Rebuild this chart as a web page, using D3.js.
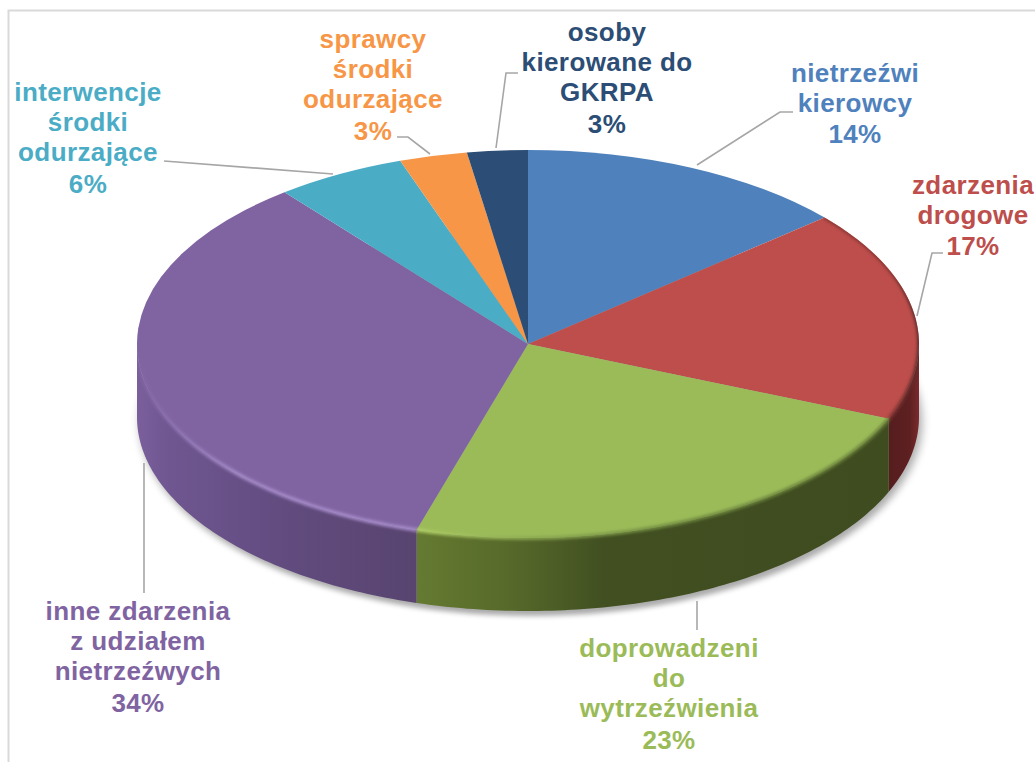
<!DOCTYPE html>
<html lang="pl">
<head>
<meta charset="utf-8">
<title>Wykres</title>
<script src="https://cdn.jsdelivr.net/npm/d3@7"></script>
<style>
html,body{margin:0;padding:0;background:#fff;overflow:hidden}
svg{display:block}
text{font-family:"Liberation Sans",Arial,sans-serif;font-weight:700;font-size:26px;letter-spacing:.4px;text-anchor:middle}
</style>
</head>
<body>
<script>
const categories = ["nietrzeźwi kierowcy","zdarzenia drogowe","doprowadzeni do wytrzeźwienia","inne zdarzenia z udziałem nietrzeźwych","interwencje środki odurzające","sprawcy środki odurzające","osoby kierowane do GKRPA"];
const sliceShares = [13.7, 17.6, 23.3, 34.7, 5.4, 2.8, 2.5];
const percentLabels = ["14%","17%","23%","34%","6%","3%","3%"];
const labelLines = [
  ["nietrzeźwi","kierowcy"],
  ["zdarzenia","drogowe"],
  ["doprowadzeni","do","wytrzeźwienia"],
  ["inne zdarzenia","z udziałem","nietrzeźwych"],
  ["interwencje","środki","odurzające"],
  ["sprawcy","środki","odurzające"],
  ["osoby","kierowane do","GKRPA"]
];
const colors = ["#4f81bd","#bd4e4b","#9bbb59","#8064a2","#4bacc6","#f79646","#2c4d75"];

// layout
const W = 1035, H = 762;
const cx = 528, cy = 344, rx = 391, ry = 194, depth = 73;
const labelPos = [[855,82],[973,194],[669,657],[138,620],[88,101],[373,48],[607,41]];
const leaders = [
  [[793,112],[780,112],[697,165]],
  [[943,253],[932,253],[917,316]],
  [[697,601],[697,630]],
  [[144,463],[144,593]],
  [[164,161],[333,174]],
  [[397,137],[408,137],[430,154]],
  [[518,73],[506,73],[496,148]]
];

const svg = d3.select("body").append("svg").attr("width",W).attr("height",H);
const defs = svg.append("defs");

const blur = (id,s)=>defs.append("filter").attr("id",id)
  .attr("x","-10%").attr("y","-10%").attr("width","120%").attr("height","130%")
  .append("feGaussianBlur").attr("stdDeviation",s);
blur("shadowBlur",5); blur("rimBlur",1.6);

const grad = (id,x1,x2,stops)=>{
  const g = defs.append("linearGradient").attr("id",id).attr("gradientUnits","userSpaceOnUse")
    .attr("x1",x1).attr("x2",x2).attr("y1",0).attr("y2",0);
  stops.forEach(s=>g.append("stop").attr("offset",s[0]).attr("stop-color",s[1]));
};
grad("sidePurple",137,417,[[0,"#7a5f9c"],[.12,"#6f5690"],[.5,"#624c80"],[1,"#58446f"]]);
grad("sideGreen",417,890,[[0,"#657a31"],[.2,"#56692a"],[.4,"#414f21"],[1,"#3f4c20"]]);
grad("sideRed",888,919,[[0,"#551d1f"],[.7,"#5e2021"],[1,"#7a2a2b"]]);
grad("rimPurple",137,417,[[0,"#8064a2"],[.35,"#a78ccb"],[1,"#a78ccb"]]);
grad("rimGreen",417,890,[[0,"#b0cf66"],[.25,"#8aa750"],[.55,"#6f8a3e"],[1,"#6a8039"]]);
grad("rimRed",885,920,[[0,"#8a3533"],[1,"#5a2a2a"]]);

// frame
svg.append("path").attr("d",`M${W},10.5H8.5V${H}`).attr("fill","none").attr("stroke","#d9d9d9").attr("stroke-width",2);

// geometry from d3.pie
const pie = d3.pie().value(d=>d).sort(null);
const arcs = pie(sliceShares);
const px = a => rx*Math.sin(a);
const py = a => -ry*Math.cos(a);
const edge = d3.line().x(d=>cx+px(d)).y(d=>cy+py(d));
const angleRange = (a0,a1)=>{const n=Math.max(2,Math.ceil((a1-a0)*60));return d3.range(n+1).map(i=>a0+(a1-a0)*i/n);};

// silhouette of the disc, keeps the soft rim from bleeding onto the page
const backHalf = angleRange(-Math.PI/2,Math.PI/2).map(a=>[cx+px(a),cy+py(a)]);
const frontHalf = angleRange(Math.PI/2,3*Math.PI/2).map(a=>[cx+px(a),cy+py(a)+depth]);
defs.append("clipPath").attr("id","disc").append("path").attr("d",d3.line()(backHalf.concat(frontHalf))+"Z");

// drop shadow
const unitArc = d3.arc().innerRadius(0).outerRadius(rx);
svg.append("path").attr("d",unitArc({startAngle:0,endAngle:2*Math.PI}))
  .attr("transform",`translate(${cx+3},${cy+depth+5}) scale(1,${ry/rx})`)
  .attr("fill","#000").attr("opacity",.33).attr("filter","url(#shadowBlur)");

// side walls: visible only on the front half
const sideFill = ["#000","url(#sideRed)","url(#sideGreen)","url(#sidePurple)"];
arcs.forEach((d,i)=>{
  const a0 = Math.max(d.startAngle,Math.PI/2), a1 = Math.min(d.endAngle,3*Math.PI/2);
  if(a1<=a0) return;
  const pts = angleRange(a0,a1);
  const top = pts.map(a=>[cx+px(a),cy+py(a)]);
  const bot = pts.slice().reverse().map(a=>[cx+px(a),cy+py(a)+depth]);
  svg.append("path").attr("d",d3.line()(top.concat(bot))+"Z").attr("fill",sideFill[i]);
});

// top face
const faces = svg.append("g").attr("transform",`translate(${cx},${cy}) scale(1,${ry/rx})`);
faces.selectAll("path").data(arcs).join("path")
  .attr("d",d3.arc().innerRadius(0).outerRadius(rx))
  .attr("fill",(d,i)=>colors[i]);

// soft rim where the top meets the wall
const rimStroke = {1:"url(#rimRed)",2:"url(#rimGreen)",3:"url(#rimPurple)"};
const rimLayer = svg.append("g").attr("clip-path","url(#disc)");
Object.keys(rimStroke).forEach(k=>{
  const d = arcs[+k];
  const a0 = Math.max(d.startAngle,Math.PI*.2), a1 = Math.min(d.endAngle,Math.PI*1.5);
  rimLayer.append("path").attr("d",edge(angleRange(a0,a1))).attr("fill","none")
    .attr("stroke",rimStroke[k]).attr("stroke-width",3.5).attr("filter","url(#rimBlur)");
});

// leaders
svg.append("g").selectAll("path").data(leaders).join("path")
  .attr("d",d3.line()).attr("fill","none").attr("stroke","#a6a6a6").attr("stroke-width",1.6);

// labels
const lineGap = 30;
const lbl = svg.append("g").selectAll("text").data(categories).join("text")
  .attr("fill",(d,i)=>colors[i]);
lbl.each(function(d,i){
  const t = d3.select(this), [x,y] = labelPos[i];
  const ls = labelLines[i];
  ls.forEach((s,j)=>t.append("tspan").attr("x",x).attr("y",y+j*lineGap).text(s));
  t.append("tspan").attr("x",x).attr("y",y+ls.length*lineGap+(ls.length>2?2:1)).text(percentLabels[i]);
});
</script>
</body>
</html>
